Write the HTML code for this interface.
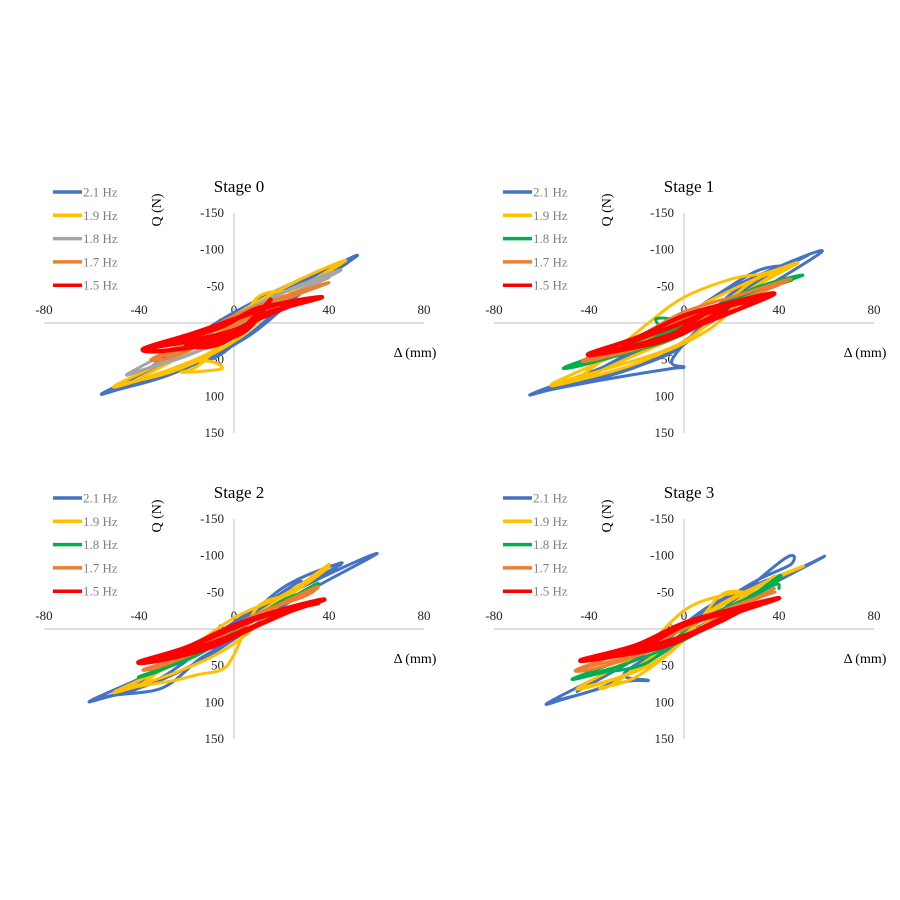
<!DOCTYPE html>
<html><head><meta charset="utf-8"><style>
html,body{margin:0;padding:0;background:#fff;}
svg{display:block;}
text{font-family:"Liberation Serif",serif;}
</style></head><body>
<svg id="chart" width="900" height="900" viewBox="0 0 900 900"></svg>
<script>
const panelTitles = ["Stage 0","Stage 1","Stage 2","Stage 3"];
const xTicks = [-80,-40,0,40,80];
const yTicks = [-150,-100,-50,0,50,100,150];
const seriesLabels0 = ["2.1 Hz","1.9 Hz","1.8 Hz","1.7 Hz","1.5 Hz"];
const seriesColors0 = ["#4472C4","#FFC000","#A5A5A5","#ED7D31","#FF0000"];
const seriesColors = ["#4472C4","#FFC000","#00B050","#ED7D31","#FF0000"];
// loop data: flat [d, Q, d, Q, ...] per series per stage
const stage0 = [
 [-55,95,-30,72,0,30,25,-35,52,-92,30,-58,0,-8,-30,55,-55,95,-48,90,-25,68,5,20,28,-40,50,-88,25,-55,-5,-5,-35,60,-48,90,-20,55,-10,50,0,28,10,-20,20,-35],
 [-50,85,-25,65,0,25,22,-35,47,-85,25,-55,0,-10,-25,45,-50,85,-42,80,-15,52,-5,62,-22,67,-15,58,0,10,10,-35,20,-43,25,-40,15,-30,-5,10,-25,50,-42,80,-10,40,10,-10,44,-80],
 [-45,70,-20,45,0,15,20,-30,45,-72,25,-48,0,-10,-25,35,-45,70,-35,60,-10,30,15,-25,40,-62,20,-40,-5,5,-35,60],
 [-35,50,-15,28,5,-5,20,-30,40,-55,20,-35,0,-10,-20,25,-35,50,-25,45,-5,15,15,-28,35,-50],
 [-38,35,-20,25,0,10,15,-15,37,-35,18,-25,0,-5,-18,15,-38,35,-30,38,-10,28,5,10,15,-30,12,-20,0,18,-10,32,-20,30,-5,20,10,-5,25,-25,30,-30,10,-20,-5,5,-25,25]
];
const stage1 = [
 [-63,95,-35,75,-10,45,20,-20,58,-97,35,-70,10,-30,-20,40,-63,95,-55,90,-30,75,-5,62,0,60,-5,50,10,-5,30,-55,52,-92,40,-75,42,-78,30,-70,10,-30,-15,25,-40,70,-55,90,-5,40,20,-40,50,-90],
 [-55,82,-30,60,0,25,25,-40,48,-82,30,-60,5,-20,-20,30,-55,82,-45,78,-20,55,10,10,30,-50,45,-78,33,-67,20,-60,0,-35,-15,0,-30,40,-45,78,-25,50,5,5,28,-55,40,-70],
 [-50,60,-25,42,0,15,25,-35,50,-65,30,-48,5,-10,-20,25,-50,60,-40,55,-10,25,-5,-3,-12,-5,-5,10,15,-25,45,-58,30,-42,0,0,-25,40,-40,55],
 [-42,50,-20,35,0,10,20,-25,45,-60,25,-40,0,-15,-20,20,-42,50,-35,48,-10,25,10,-10,30,-40,40,-52,22,-30,0,-5,-25,30,-35,45],
 [-40,42,-20,30,0,10,20,-15,38,-40,20,-28,0,-10,-20,20,-40,42,-32,40,-10,25,5,5,20,-25,35,-35,15,-20,-5,5,-25,30,-10,25,10,-15,18,-20,10,-5,-5,15]
];
const stage2 = [
 [-60,97,-35,75,-10,35,25,-40,60,-102,40,-75,10,-25,-25,45,-60,97,-50,90,-30,80,-15,42,-5,20,20,-55,45,-90,35,-70,10,-30,-20,35,-45,85,-30,65,-10,20,25,-60,30,-60,45,-88],
 [-50,85,-25,60,0,20,25,-50,40,-88,30,-65,5,-10,-20,40,-50,85,-40,78,-25,70,-15,62,-5,55,0,35,10,-30,25,-50,40,-85,20,-45,0,-15,-20,30,-40,78],
 [-40,65,-15,35,10,-20,30,-48,35,-62,20,-35,0,0,-20,40,-40,65,-30,55,-5,15,20,-38,35,-55],
 [-38,55,-15,28,10,-20,30,-45,35,-58,20,-35,0,-5,-20,35,-38,55,-30,50,-5,15,20,-35,33,-50],
 [-40,45,-20,30,0,8,20,-20,38,-40,22,-28,0,-5,-20,25,-40,45,-30,42,-10,25,10,-5,28,-30,35,-35,15,-20,-5,5,-25,35,-10,22,5,0,-5,15]
];
const stage3 = [
 [-57,100,-35,80,-15,45,10,-10,42,-95,45,-88,30,-65,10,-25,-10,20,-30,55,-57,100,-50,95,-25,72,-15,70,-25,60,0,10,25,-40,58,-97,50,-85,30,-60,10,-30,-15,30,-45,85],
 [-45,82,-20,55,5,-10,20,-42,50,-85,35,-65,15,-30,-10,30,-30,75,-35,80,-20,65,0,15,15,-45,25,-50,15,-45,0,-25,-20,35,-45,82,-15,50,10,-10,38,-72],
 [-47,68,-25,48,0,15,20,-25,40,-72,35,-55,15,-25,-5,5,-25,40,-47,68,-35,60,-15,45,5,-10,20,-28,38,-60,40,-55],
 [-45,55,-20,35,0,10,20,-25,38,-55,25,-35,5,-10,-15,20,-45,55,-35,52,-10,25,10,-5,30,-40,38,-50,20,-30,0,0,-25,40],
 [-43,42,-20,30,0,10,20,-20,40,-42,22,-28,0,-8,-20,22,-43,42,-35,40,-10,25,5,5,18,-15,25,-28,15,-20,0,-5,-15,20,-30,35,-5,15,15,-10,20,-20]
];
const stagesData = [stage0, stage1, stage2, stage3];
const origins = [[234,323],[684,323],[234,629],[684,629]];
const svg = document.getElementById('chart');
const NS = 'http://www.w3.org/2000/svg';
function mk(tag, attrs, parent){const e=document.createElementNS(NS,tag);for(const k in attrs)e.setAttribute(k,attrs[k]);(parent||svg).appendChild(e);return e;}
function smoothPath(P){
  let d='M'+P[0][0].toFixed(1)+','+P[0][1].toFixed(1);
  for(let i=0;i<P.length-1;i++){
    const p0=P[Math.max(0,i-1)],p1=P[i],p2=P[i+1],p3=P[Math.min(P.length-1,i+2)];
    const c1x=p1[0]+(p2[0]-p0[0])/6,c1y=p1[1]+(p2[1]-p0[1])/6;
    const c2x=p2[0]-(p3[0]-p1[0])/6,c2y=p2[1]-(p3[1]-p1[1])/6;
    d+=` C${c1x.toFixed(1)},${c1y.toFixed(1)} ${c2x.toFixed(1)},${c2y.toFixed(1)} ${p2[0].toFixed(1)},${p2[1].toFixed(1)}`;
  }
  return d;
}
const pxPerMm = 95/40, pxPerN = 36.7/50;
for(let p=0;p<4;p++){
  const [ox,oy]=origins[p];
  const xS=d=>ox+d*pxPerMm, yS=q=>oy+q*pxPerN;
  const g=mk('g',{});
  
  
  const xa=mk('line',{x1:xS(-80),x2:xS(80),y1:oy,y2:oy,stroke:'#BFBFBF','stroke-width':1},g);
  
  
  const ya=mk('line',{x1:ox,x2:ox,y1:yS(-150),y2:yS(150),stroke:'#BFBFBF','stroke-width':1},g);
  
  
  xTicks.forEach(t=>{const e=mk('text',{x:xS(t),y:oy-9,'font-size':13,'text-anchor':'middle',fill:'#222'},g);e.textContent=t;
    
    });
  yTicks.forEach(t=>{const e=mk('text',{x:ox-10,y:yS(t)+4,'font-size':13,'text-anchor':'end',fill:'#222'},g);e.textContent=t;
    
    });
  const data=stagesData[p];
  const cols=p===0?seriesColors0:seriesColors;
  data.forEach((arr,s)=>{
    let pts=[];for(let i=0;i<arr.length;i+=2)pts.push([xS(arr[i]),yS(arr[i+1])]);
    const pl=mk('path',{d:smoothPath(pts),fill:'none',stroke:cols[s],'stroke-width':s===4?4.5:3,'stroke-linejoin':'round','stroke-linecap':'round'},g);
    
    
  });
  const tt=mk('text',{x:ox+5,y:oy-131,'font-size':17,'text-anchor':'middle',fill:'#000'},g);tt.textContent=panelTitles[p];
  
  
  const ql=mk('text',{x:0,y:0,'font-size':14,'text-anchor':'middle',fill:'#000',transform:`translate(${ox-73},${oy-113}) rotate(-90)`},g);ql.textContent='Q (N)';
  
  
  const dl=mk('text',{x:ox+181,y:oy+34,'font-size':14,'text-anchor':'middle',fill:'#000'},g);dl.textContent='Δ (mm)';
  
  
  const labels=p===0?seriesLabels0:["2.1 Hz","1.9 Hz","1.8 Hz","1.7 Hz","1.5 Hz"];
  labels.forEach((l,s)=>{
    const ly=oy-131+s*23.3;
    const ln=mk('line',{x1:ox-181,x2:ox-152,y1:ly,y2:ly,stroke:cols[s],'stroke-width':3.5},g);
    
    
    const lt=mk('text',{x:ox-151,y:ly+4.5,'font-size':13,fill:'#7F7F7F'},g);lt.textContent=l;
    
    
  });
}
</script>
</body></html>
